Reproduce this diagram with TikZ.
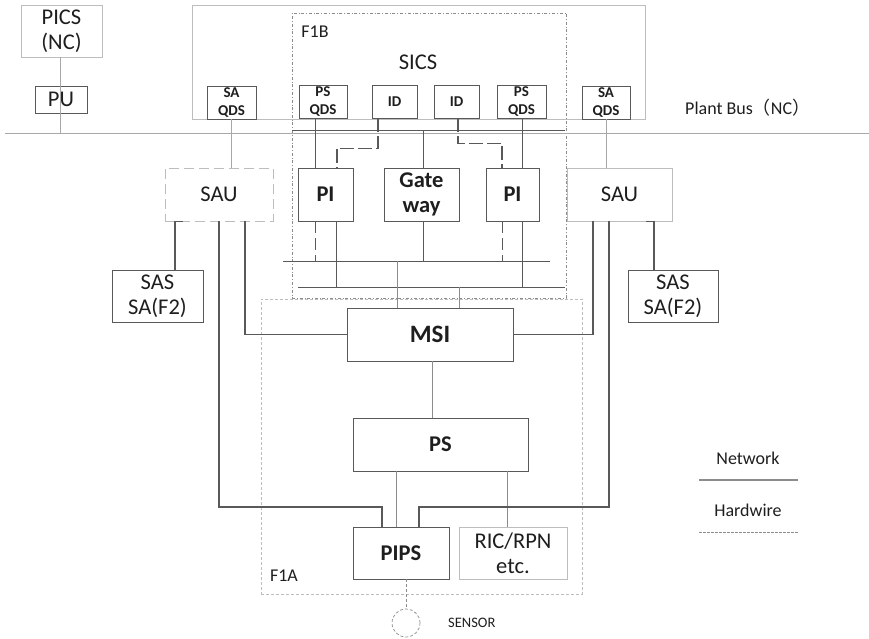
\documentclass[tikz,border=0pt]{standalone}
\usepackage{fontspec}
\setmainfont{Carlito}
\newfontfamily\cjk{Noto Sans CJK SC}
\usetikzlibrary{positioning,calc}
\definecolor{dgray}{HTML}{595959}
\definecolor{mgray}{HTML}{8C8C8C}
\definecolor{bgray}{HTML}{A8A8A8}
\definecolor{lgray}{HTML}{BDBDBD}
\definecolor{ink}{HTML}{1E1E1E}
\begin{document}
\begin{tikzpicture}[
    x=1pt, y=-1pt,
    wh/.style 2 args={minimum width=#1pt, minimum height=#2pt},
    box/.style={draw=dgray, line width=0.8pt, inner sep=0pt, align=center, text=ink,
      font=\fontsize{22.5}{25}\selectfont},
    lbox/.style={box, draw=lgray},
    bbox/.style={box, font=\fontsize{22.5}{25}\selectfont\bfseries},
    qds/.style={box, font=\fontsize{15}{18}\selectfont\bfseries},
    zone/.style={draw=mgray, line width=0.6pt, dash dot, inner sep=0pt},
    zonea/.style={draw=lgray, line width=0.7pt, dash pattern=on 3pt off 2pt, inner sep=0pt},
    net/.style={draw=mgray, line width=0.8pt},
    lnet/.style={draw=bgray, line width=0.8pt},
    dnet/.style={draw=dgray, line width=0.8pt},
    dnetd/.style={dnet, dash pattern=on 12pt off 5pt},
    hw/.style={draw=dgray, line width=1.6pt},
    hwd/.style={hw, dash pattern=on 14pt off 4pt},
    lbl/.style={inner sep=0pt, text=ink, font=\fontsize{18}{21}\selectfont}
  ]
  \path[use as bounding box] (0,0) rectangle (869,639);

  % zones
  \node[lbox, wh={453}{114}] (sicsbox) at (418.5,62) {};
  \node[zone, wh={274}{285}] (f1b) at (429,155.5) {};
  \node[zonea, wh={321}{295}] (f1a) at (421.5,446.5) {};
  \node[lbl] (f1blbl) at (315,32) {F1B};
  \node[lbl] (f1albl) at (284,576) {F1A};
  \node[lbl, font=\fontsize{22.5}{26}\selectfont] (sics) at (418,62) {SICS};

  % upper level
  \node[lbox, wh={81}{52}] (pics) at (61.5,31) {PICS\\(NC)};
  \node[box, wh={52}{27}] (pu) at (61,99.5) {PU};
  \node[qds, wh={49}{33}] (saqdsl) at (231.5,102.5) {SA\\QDS};
  \node[qds, wh={48}{33}] (psqdsl) at (323,101.5) {PS\\QDS};
  \node[qds, wh={45}{33}] (idl) at (394.5,101.5) {ID};
  \node[qds, wh={45}{33}] (idr) at (456.5,101.5) {ID};
  \node[qds, wh={49}{33}] (psqdsr) at (521.5,101.5) {PS\\QDS};
  \node[qds, wh={48}{33}] (saqdsr) at (606,102.5) {SA\\QDS};
  \node[lbl, anchor=west] (pbuslbl) at (685,108) {Plant Bus{\cjk （}NC{\cjk ）}};

  % middle level
  \node[lbox, dash pattern=on 10pt off 5pt, wh={108}{53}] (saul) at (219,194.5) {SAU};
  \node[lbox, wh={105}{53}] (saur) at (619.5,194.5) {SAU};
  \node[bbox, wh={55}{53}] (pil) at (325.5,194.5) {PI};
  \node[bbox, wh={75}{53}] (gw) at (421.5,194.5) {Gate\\way};
  \node[bbox, wh={53}{53}] (pir) at (512.5,194.5) {PI};
  \node[box, wh={91}{52}] (sasl) at (157.5,296) {SAS\\SA(F2)};
  \node[box, wh={90}{52}] (sasr) at (673,296) {SAS\\SA(F2)};

  % lower level
  \node[bbox, wh={166}{53}, font=\fontsize{25}{28}\selectfont\bfseries] (msi) at (430,334.5) {MSI};
  \node[bbox, wh={175}{53}] (ps) at (440.5,444.5) {PS};
  \node[bbox, wh={96}{52}] (pips) at (401,553) {PIPS};
  \node[lbox, wh={108}{52}] (ric) at (513,553) {RIC/RPN\\etc.};
  \node[circle, draw=mgray, line width=0.7pt, dash pattern=on 3pt off 2pt, minimum size=28pt, inner sep=0pt] (sensor) at (406,623) {};
  \node[lbl, anchor=west, font=\fontsize{14.5}{17}\selectfont] (sensorlbl) at (448,623) {SENSOR};

  % buses
  \coordinate (pbw) at (5,133);
  \coordinate (pbe) at (869,133);
  \coordinate (sbw) at (292,130);
  \coordinate (sbe) at (565,130);
  \coordinate (baw) at (283,261);
  \coordinate (bae) at (550,261);
  \coordinate (bbw) at (298,287);
  \coordinate (bbe) at (565,287);
  \draw[lnet] (pbw) -- (pbe);
  \draw[dnet] (sbw) -- (sbe);
  \draw[dnet] (baw) -- (bae);
  \draw[dnet] (bbw) -- (bbe);

  % network links
  \draw[lnet] (pics.south -| 60,0) -- (pbw -| 60,0);
  \draw[lnet] (saqdsl.south -| 231,0) -- (saul.north -| 231,0);
  \draw[lnet] (saqdsr.south) -- (saur.north -| saqdsr.south);
  \draw[dnet] (psqdsl.south -| 315,0) -- (pil.north -| 315,0);
  \draw[dnet] (psqdsr.south -| 522,0) -- (pir.north -| 522,0);
  \draw[dnet] (gw.north -| 423,0) -- (sbw -| 423,0);
  \draw[dnet] (gw.south -| 423,0) -- (baw -| 423,0);
  \draw[dnetd] (pil.south -| 315,0) -- (baw -| 315,0);
  \draw[dnet] (pil.south -| 336,0) -- (bbw -| 336,0);
  \draw[dnetd] (pir.south -| 502,0) -- (baw -| 502,0);
  \draw[dnet] (pir.south -| 522,0) -- (bbw -| 522,0);
  \draw[net] (baw -| 397,0) -- (msi.north -| 397,0);
  \draw[net] (bbw -| 459,0) -- (msi.north -| 459,0);
  \draw[net] (msi.south -| 432,0) -- (ps.north -| 432,0);
  \draw[net] (ps.south -| 396,0) -- (pips.north -| 396,0);
  \draw[net] (ps.south -| 507,0) -- (ric.north -| 507,0);
  \draw[net, dash pattern=on 3pt off 2pt] (pips.south -| sensor.north) -- (sensor.north);

  % ID to PI
  \draw[hwd] (idl.south -| 378,0) -- ++(0,30) -| (pil.north -| 337,0);
  \draw[hwd] (idr.south -| 458,0) -- ++(0,25) -| (pir.north -| 502,0);

  % SAU links
  \draw[hw] (saul.south -| 183,0) -| (sasl.north -| 175,0);
  \draw[hw] (saul.south -| 245,0) |- (msi.west);
  \draw[hw] (saul.south -| 219,0) |- (382,507) -- (pips.north -| 382,0);
  \draw[hw] (saur.south -| 646,0) -| (sasr.north -| 654,0);
  \draw[hw] (saur.south -| 593,0) |- (msi.east);
  \draw[hw] (saur.south -| 609,0) |- (419,507) -- (pips.north -| 419,0);

  % legend
  \node[lbl] (netlbl) at (748,458) {Network};
  \node[lbl] (hwlbl) at (748,510) {Hardwire};
  \coordinate (netw) at (699,480);
  \coordinate (nete) at (798,480);
  \coordinate (hww) at (699,532);
  \coordinate (hwe) at (798,532);
  \draw[draw=mgray, line width=1.2pt] (netw) -- (nete);
  \draw[draw=mgray, line width=0.6pt, dash pattern=on 2.5pt off 1.5pt] (hww) -- (hwe);
\end{tikzpicture}
\end{document}
